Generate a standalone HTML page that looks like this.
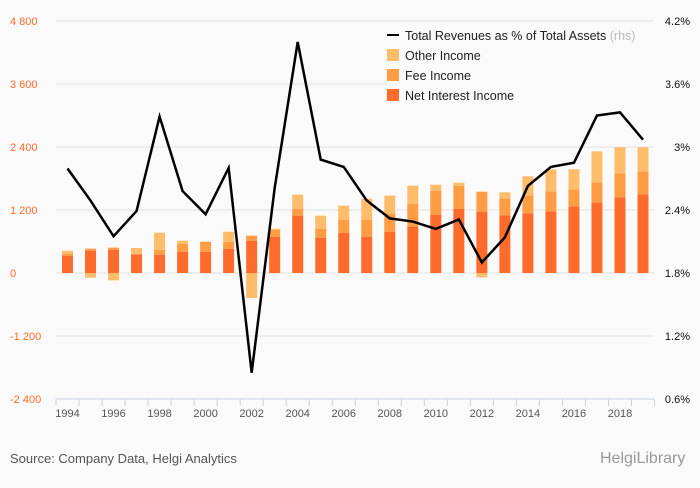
<!DOCTYPE html>
<html><head><meta charset="utf-8"><style>
body{margin:0;background:#fafafa;font-family:"Liberation Sans",sans-serif;}
svg text{font-family:"Liberation Sans",sans-serif;}
</style></head><body>
<svg id="c" width="700" height="483">
<rect width="700" height="483" fill="#fafafa"/>
<g id="grid"></g><g id="bars"></g><g id="line"></g><g id="axes"></g>
<g id="legend">
<rect x="386" y="28" width="280" height="78" fill="#fafafa"/>
<line x1="387" y1="35" x2="399" y2="35" stroke="#000" stroke-width="2"/>
<text x="405" y="40" font-size="12.5" fill="#222">Total Revenues as % of Total Assets <tspan fill="#bbb">(rhs)</tspan></text>
<rect x="387" y="49" width="12" height="12" fill="#ffbd6b"/>
<text x="405" y="60" font-size="12.5" fill="#222">Other Income</text>
<rect x="387" y="69" width="12" height="12" fill="#ff9d45"/>
<text x="405" y="80" font-size="12.5" fill="#222">Fee Income</text>
<rect x="387" y="89" width="12" height="12" fill="#ff6b2b"/>
<text x="405" y="100" font-size="12.5" fill="#222">Net Interest Income</text>
</g>
<text x="10" y="463" font-size="13" fill="#555">Source: Company Data, Helgi Analytics</text>
<text x="600" y="463" font-size="16" fill="#999">HelgiLibrary</text>
</svg>
<script>
const years=[1994,1995,1996,1997,1998,1999,2000,2001,2002,2003,2004,2005,2006,2007,2008,2009,2010,2011,2012,2013,2014,2015,2016,2017,2018,2019];
const nii=[330,426,445,356,349,406,406,463,616,692,1092,673,768,692,788,883,1111,1225,1168,1099,1137,1175,1270,1346,1442,1499];
const fee=[37,38,38,10,95,152,190,133,95,133,133,171,248,324,343,438,457,438,381,324,343,381,324,381,457,438];
const other=[57,-89,-140,110,324,57,0,190,-476,19,267,248,267,400,343,343,114,57,-83,114,362,419,381,590,495,457];
const ratio=[2.795,2.49,2.15,2.39,3.29,2.58,2.36,2.80,0.85,2.61,4.0,2.88,2.81,2.49,2.32,2.29,2.22,2.31,1.90,2.14,2.63,2.81,2.85,3.30,3.33,3.07];
const leftTicks=[-2400,-1200,0,1200,2400,3600,4800];
const leftLabels=["-2 400","-1 200","0","1 200","2 400","3 600","4 800"];
const rightTicks=[0.6,1.2,1.8,2.4,3.0,3.6,4.2];
const rightLabels=["0.6%","1.2%","1.8%","2.4%","3%","3.6%","4.2%"];
const NS="http://www.w3.org/2000/svg";
const yL=v=>399-(v+2400)*(378/7200);
const yR=v=>399-(v-0.6)*(378/3.6);
const xC=i=>67.5+i*23.02;
function mk(tag,attrs,parent,txt){const e=document.createElementNS(NS,tag);for(const k in attrs)e.setAttribute(k,attrs[k]);if(txt!==undefined)e.textContent=txt;document.getElementById(parent).appendChild(e);return e;}
leftTicks.forEach((t,i)=>{
  if(i>0){const g=mk('line',{x1:56,x2:654,y1:yL(t),y2:yL(t),stroke:'#e3e3e3'},'grid');
  
  }
  const l=mk('text',{x:10,y:yL(t)+4,'font-size':11,fill:'#ff6b2b'},'axes',leftLabels[i]);
  
  
});
rightTicks.forEach((t,i)=>{
  const l=mk('text',{x:690,y:yR(t)+4,'font-size':11,fill:'#111','text-anchor':'end'},'axes',rightLabels[i]);
  
  
});
mk('line',{x1:56,x2:654,y1:399,y2:399,stroke:'#c8d2e0'},'axes');
for(let i=0;i<=years.length;i++){mk('line',{x1:56+i*23.02,x2:56+i*23.02,y1:399,y2:406,stroke:'#c8d2e0'},'axes');}
years.forEach((y,i)=>{
  if(y%2===0){const l=mk('text',{x:xC(i),y:417,'font-size':11,fill:'#555','text-anchor':'middle'},'axes',String(y));
  
  }
  const w=11,x=xC(i)-w/2;
  let pos=0,neg=0;
  [[nii[i],'#ff6b2b','bar-net-interest-income'],[fee[i],'#ff9d45','bar-fee-income'],[other[i],'#ffbd6b','bar-other-income']].forEach(([v,c,n])=>{
    let y0,y1;
    if(v>=0){y0=pos;y1=pos+v;pos=y1;}else{y0=neg;y1=neg+v;neg=y1;}
    const r=mk('rect',{x:x,width:w,y:Math.min(yL(y0),yL(y1)),height:Math.abs(yL(y0)-yL(y1)),fill:c},'bars');
    
    
  });
});
const pts=ratio.map((v,i)=>xC(i)+','+yR(v)).join(' ');
const pl=mk('polyline',{points:pts,fill:'none',stroke:'#000','stroke-width':2.5,'stroke-linejoin':'miter'},'line');


</script>
</body></html>
